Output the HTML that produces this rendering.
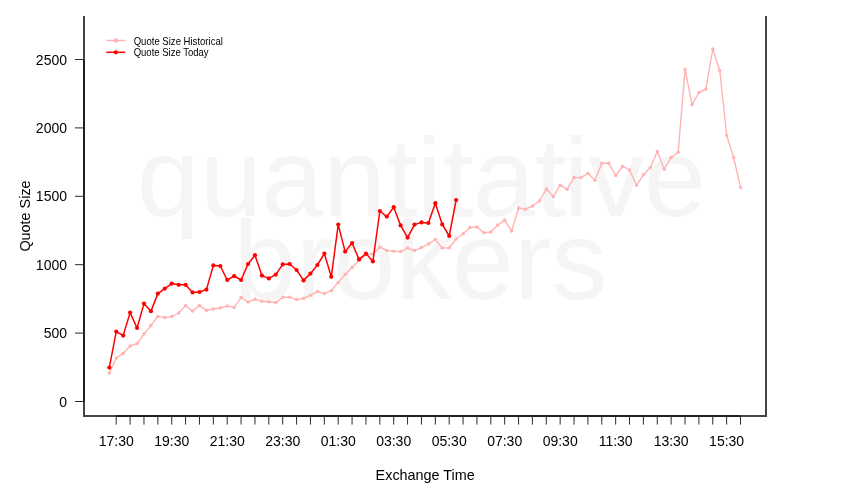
<!DOCTYPE html>
<html><head><meta charset="utf-8">
<style>
html,body{margin:0;padding:0;background:#fff;}
body{width:850px;height:500px;overflow:hidden;}
svg{display:block;will-change:transform;font-family:"Liberation Sans",sans-serif;}
</style></head><body>
<svg width="850" height="500" viewBox="0 0 850 500">
<rect width="850" height="500" fill="#fff"/>
<g fill="#f5f5f5" font-size="112" text-anchor="middle">
<text x="137.07 199.85 260.95 323.23 386.23 416.84 442.23 472.64 534.93 563.74 588.13 643.63" y="216" text-anchor="start">quantitative</text>
<text x="420.5" y="299">brokers</text>
</g>
<g fill="none">
<path d="M84,16 V416 H766 V16" stroke="#454545" stroke-width="2" stroke-linejoin="miter"/>
<path d="M84,59.50 V401.50" stroke="#202020" stroke-width="2"/>
<path d="M116.23,416 H740.51" stroke="#202020" stroke-width="2"/>
<g stroke="#2a2a2a" stroke-width="1">
<line x1="75.0" y1="401.50" x2="84.0" y2="401.50"/><line x1="75.0" y1="333.10" x2="84.0" y2="333.10"/><line x1="75.0" y1="264.70" x2="84.0" y2="264.70"/><line x1="75.0" y1="196.30" x2="84.0" y2="196.30"/><line x1="75.0" y1="127.90" x2="84.0" y2="127.90"/><line x1="75.0" y1="59.50" x2="84.0" y2="59.50"/>
<line x1="116.23" y1="416" x2="116.23" y2="424.6"/><line x1="130.10" y1="416" x2="130.10" y2="424.6"/><line x1="143.98" y1="416" x2="143.98" y2="424.6"/><line x1="157.85" y1="416" x2="157.85" y2="424.6"/><line x1="171.72" y1="416" x2="171.72" y2="424.6"/><line x1="185.59" y1="416" x2="185.59" y2="424.6"/><line x1="199.47" y1="416" x2="199.47" y2="424.6"/><line x1="213.34" y1="416" x2="213.34" y2="424.6"/><line x1="227.21" y1="416" x2="227.21" y2="424.6"/><line x1="241.09" y1="416" x2="241.09" y2="424.6"/><line x1="254.96" y1="416" x2="254.96" y2="424.6"/><line x1="268.83" y1="416" x2="268.83" y2="424.6"/><line x1="282.71" y1="416" x2="282.71" y2="424.6"/><line x1="296.58" y1="416" x2="296.58" y2="424.6"/><line x1="310.45" y1="416" x2="310.45" y2="424.6"/><line x1="324.32" y1="416" x2="324.32" y2="424.6"/><line x1="338.20" y1="416" x2="338.20" y2="424.6"/><line x1="352.07" y1="416" x2="352.07" y2="424.6"/><line x1="365.94" y1="416" x2="365.94" y2="424.6"/><line x1="379.82" y1="416" x2="379.82" y2="424.6"/><line x1="393.69" y1="416" x2="393.69" y2="424.6"/><line x1="407.56" y1="416" x2="407.56" y2="424.6"/><line x1="421.44" y1="416" x2="421.44" y2="424.6"/><line x1="435.31" y1="416" x2="435.31" y2="424.6"/><line x1="449.18" y1="416" x2="449.18" y2="424.6"/><line x1="463.06" y1="416" x2="463.06" y2="424.6"/><line x1="476.93" y1="416" x2="476.93" y2="424.6"/><line x1="490.80" y1="416" x2="490.80" y2="424.6"/><line x1="504.67" y1="416" x2="504.67" y2="424.6"/><line x1="518.55" y1="416" x2="518.55" y2="424.6"/><line x1="532.42" y1="416" x2="532.42" y2="424.6"/><line x1="546.29" y1="416" x2="546.29" y2="424.6"/><line x1="560.17" y1="416" x2="560.17" y2="424.6"/><line x1="574.04" y1="416" x2="574.04" y2="424.6"/><line x1="587.91" y1="416" x2="587.91" y2="424.6"/><line x1="601.78" y1="416" x2="601.78" y2="424.6"/><line x1="615.66" y1="416" x2="615.66" y2="424.6"/><line x1="629.53" y1="416" x2="629.53" y2="424.6"/><line x1="643.40" y1="416" x2="643.40" y2="424.6"/><line x1="657.28" y1="416" x2="657.28" y2="424.6"/><line x1="671.15" y1="416" x2="671.15" y2="424.6"/><line x1="685.02" y1="416" x2="685.02" y2="424.6"/><line x1="698.90" y1="416" x2="698.90" y2="424.6"/><line x1="712.77" y1="416" x2="712.77" y2="424.6"/><line x1="726.64" y1="416" x2="726.64" y2="424.6"/><line x1="740.51" y1="416" x2="740.51" y2="424.6"/>
</g>
</g>
<g font-size="14" fill="#000" text-anchor="end"><text x="67" y="406.50">0</text><text x="67" y="338.10">500</text><text x="67" y="269.70">1000</text><text x="67" y="201.30">1500</text><text x="67" y="132.90">2000</text><text x="67" y="64.50">2500</text></g>
<g font-size="14" fill="#000" text-anchor="middle"><text x="116.23" y="446.3">17:30</text><text x="171.72" y="446.3">19:30</text><text x="227.21" y="446.3">21:30</text><text x="282.71" y="446.3">23:30</text><text x="338.20" y="446.3">01:30</text><text x="393.69" y="446.3">03:30</text><text x="449.18" y="446.3">05:30</text><text x="504.67" y="446.3">07:30</text><text x="560.17" y="446.3">09:30</text><text x="615.66" y="446.3">11:30</text><text x="671.15" y="446.3">13:30</text><text x="726.64" y="446.3">15:30</text></g>
<text x="425.2" y="479.8" font-size="14.4" text-anchor="middle">Exchange Time</text>
<text transform="translate(29.7,216) rotate(-90)" font-size="14.4" text-anchor="middle">Quote Size</text>
<g>
<polyline points="109.30,373.00 116.24,358.00 123.17,353.40 130.11,346.00 137.05,343.60 143.99,334.00 150.92,325.60 157.86,316.40 164.80,317.60 171.73,316.60 178.67,313.00 185.61,305.60 192.54,311.00 199.48,305.60 206.42,310.40 213.36,309.00 220.29,308.00 227.23,306.00 234.17,307.40 241.10,297.60 248.04,302.00 254.98,299.20 261.91,301.20 268.85,301.80 275.79,302.40 282.73,297.20 289.66,297.20 296.60,299.60 303.54,298.40 310.47,295.20 317.41,291.60 324.35,293.60 331.28,290.70 338.22,282.40 345.16,274.40 352.10,267.60 359.03,260.60 365.97,254.60 372.91,254.00 379.84,247.20 386.78,250.40 393.72,251.30 400.65,251.60 407.59,248.00 414.53,250.60 421.47,247.60 428.40,244.00 435.34,239.60 442.28,248.00 449.21,247.70 456.15,239.00 463.09,233.80 470.02,227.40 476.96,227.00 483.90,232.70 490.84,232.00 497.77,225.00 504.71,220.10 511.65,230.90 518.58,207.90 525.52,209.20 532.46,206.00 539.39,201.00 546.33,189.10 553.27,196.40 560.21,185.20 567.14,189.20 574.08,177.60 581.02,177.60 587.95,173.30 594.89,180.20 601.83,163.20 608.76,163.20 615.70,175.50 622.64,166.40 629.57,170.00 636.51,185.20 643.45,174.80 650.39,167.50 657.32,151.50 664.26,169.20 671.20,157.50 678.13,152.20 685.07,69.40 692.01,104.70 698.94,92.50 705.88,89.00 712.82,49.10 719.76,70.50 726.69,135.40 733.63,157.40 740.57,187.40" fill="none" stroke="#ffb3b3" stroke-width="1.4" stroke-linejoin="round"/>
<g fill="#ffb3b3"><circle cx="109.30" cy="373.00" r="1.75"/><circle cx="116.24" cy="358.00" r="1.75"/><circle cx="123.17" cy="353.40" r="1.75"/><circle cx="130.11" cy="346.00" r="1.75"/><circle cx="137.05" cy="343.60" r="1.75"/><circle cx="143.99" cy="334.00" r="1.75"/><circle cx="150.92" cy="325.60" r="1.75"/><circle cx="157.86" cy="316.40" r="1.75"/><circle cx="164.80" cy="317.60" r="1.75"/><circle cx="171.73" cy="316.60" r="1.75"/><circle cx="178.67" cy="313.00" r="1.75"/><circle cx="185.61" cy="305.60" r="1.75"/><circle cx="192.54" cy="311.00" r="1.75"/><circle cx="199.48" cy="305.60" r="1.75"/><circle cx="206.42" cy="310.40" r="1.75"/><circle cx="213.36" cy="309.00" r="1.75"/><circle cx="220.29" cy="308.00" r="1.75"/><circle cx="227.23" cy="306.00" r="1.75"/><circle cx="234.17" cy="307.40" r="1.75"/><circle cx="241.10" cy="297.60" r="1.75"/><circle cx="248.04" cy="302.00" r="1.75"/><circle cx="254.98" cy="299.20" r="1.75"/><circle cx="261.91" cy="301.20" r="1.75"/><circle cx="268.85" cy="301.80" r="1.75"/><circle cx="275.79" cy="302.40" r="1.75"/><circle cx="282.73" cy="297.20" r="1.75"/><circle cx="289.66" cy="297.20" r="1.75"/><circle cx="296.60" cy="299.60" r="1.75"/><circle cx="303.54" cy="298.40" r="1.75"/><circle cx="310.47" cy="295.20" r="1.75"/><circle cx="317.41" cy="291.60" r="1.75"/><circle cx="324.35" cy="293.60" r="1.75"/><circle cx="331.28" cy="290.70" r="1.75"/><circle cx="338.22" cy="282.40" r="1.75"/><circle cx="345.16" cy="274.40" r="1.75"/><circle cx="352.10" cy="267.60" r="1.75"/><circle cx="359.03" cy="260.60" r="1.75"/><circle cx="365.97" cy="254.60" r="1.75"/><circle cx="372.91" cy="254.00" r="1.75"/><circle cx="379.84" cy="247.20" r="1.75"/><circle cx="386.78" cy="250.40" r="1.75"/><circle cx="393.72" cy="251.30" r="1.75"/><circle cx="400.65" cy="251.60" r="1.75"/><circle cx="407.59" cy="248.00" r="1.75"/><circle cx="414.53" cy="250.60" r="1.75"/><circle cx="421.47" cy="247.60" r="1.75"/><circle cx="428.40" cy="244.00" r="1.75"/><circle cx="435.34" cy="239.60" r="1.75"/><circle cx="442.28" cy="248.00" r="1.75"/><circle cx="449.21" cy="247.70" r="1.75"/><circle cx="456.15" cy="239.00" r="1.75"/><circle cx="463.09" cy="233.80" r="1.75"/><circle cx="470.02" cy="227.40" r="1.75"/><circle cx="476.96" cy="227.00" r="1.75"/><circle cx="483.90" cy="232.70" r="1.75"/><circle cx="490.84" cy="232.00" r="1.75"/><circle cx="497.77" cy="225.00" r="1.75"/><circle cx="504.71" cy="220.10" r="1.75"/><circle cx="511.65" cy="230.90" r="1.75"/><circle cx="518.58" cy="207.90" r="1.75"/><circle cx="525.52" cy="209.20" r="1.75"/><circle cx="532.46" cy="206.00" r="1.75"/><circle cx="539.39" cy="201.00" r="1.75"/><circle cx="546.33" cy="189.10" r="1.75"/><circle cx="553.27" cy="196.40" r="1.75"/><circle cx="560.21" cy="185.20" r="1.75"/><circle cx="567.14" cy="189.20" r="1.75"/><circle cx="574.08" cy="177.60" r="1.75"/><circle cx="581.02" cy="177.60" r="1.75"/><circle cx="587.95" cy="173.30" r="1.75"/><circle cx="594.89" cy="180.20" r="1.75"/><circle cx="601.83" cy="163.20" r="1.75"/><circle cx="608.76" cy="163.20" r="1.75"/><circle cx="615.70" cy="175.50" r="1.75"/><circle cx="622.64" cy="166.40" r="1.75"/><circle cx="629.57" cy="170.00" r="1.75"/><circle cx="636.51" cy="185.20" r="1.75"/><circle cx="643.45" cy="174.80" r="1.75"/><circle cx="650.39" cy="167.50" r="1.75"/><circle cx="657.32" cy="151.50" r="1.75"/><circle cx="664.26" cy="169.20" r="1.75"/><circle cx="671.20" cy="157.50" r="1.75"/><circle cx="678.13" cy="152.20" r="1.75"/><circle cx="685.07" cy="69.40" r="1.75"/><circle cx="692.01" cy="104.70" r="1.75"/><circle cx="698.94" cy="92.50" r="1.75"/><circle cx="705.88" cy="89.00" r="1.75"/><circle cx="712.82" cy="49.10" r="1.75"/><circle cx="719.76" cy="70.50" r="1.75"/><circle cx="726.69" cy="135.40" r="1.75"/><circle cx="733.63" cy="157.40" r="1.75"/><circle cx="740.57" cy="187.40" r="1.75"/></g>
<polyline points="109.30,367.60 116.24,331.60 123.17,335.60 130.11,312.60 137.05,328.00 143.99,303.60 150.92,311.20 157.86,293.60 164.80,288.60 171.73,283.60 178.67,284.80 185.61,284.80 192.54,292.40 199.48,292.00 206.42,289.60 213.36,265.40 220.29,266.00 227.23,280.00 234.17,276.00 241.10,280.00 248.04,264.00 254.98,255.20 261.91,275.60 268.85,278.40 275.79,274.60 282.73,264.40 289.66,264.00 296.60,270.00 303.54,280.40 310.47,273.60 317.41,265.00 324.35,253.60 331.28,276.80 338.22,224.60 345.16,251.60 352.10,243.00 359.03,259.40 365.97,253.60 372.91,261.40 379.84,211.00 386.78,216.60 393.72,207.20 400.65,225.40 407.59,237.60 414.53,224.60 421.47,222.40 428.40,223.00 435.34,203.20 442.28,224.40 449.21,236.00 456.15,200.00" fill="none" stroke="#ff0000" stroke-width="1.5" stroke-linejoin="round"/>
<g fill="#ff0000"><circle cx="109.30" cy="367.60" r="2.1"/><circle cx="116.24" cy="331.60" r="2.1"/><circle cx="123.17" cy="335.60" r="2.1"/><circle cx="130.11" cy="312.60" r="2.1"/><circle cx="137.05" cy="328.00" r="2.1"/><circle cx="143.99" cy="303.60" r="2.1"/><circle cx="150.92" cy="311.20" r="2.1"/><circle cx="157.86" cy="293.60" r="2.1"/><circle cx="164.80" cy="288.60" r="2.1"/><circle cx="171.73" cy="283.60" r="2.1"/><circle cx="178.67" cy="284.80" r="2.1"/><circle cx="185.61" cy="284.80" r="2.1"/><circle cx="192.54" cy="292.40" r="2.1"/><circle cx="199.48" cy="292.00" r="2.1"/><circle cx="206.42" cy="289.60" r="2.1"/><circle cx="213.36" cy="265.40" r="2.1"/><circle cx="220.29" cy="266.00" r="2.1"/><circle cx="227.23" cy="280.00" r="2.1"/><circle cx="234.17" cy="276.00" r="2.1"/><circle cx="241.10" cy="280.00" r="2.1"/><circle cx="248.04" cy="264.00" r="2.1"/><circle cx="254.98" cy="255.20" r="2.1"/><circle cx="261.91" cy="275.60" r="2.1"/><circle cx="268.85" cy="278.40" r="2.1"/><circle cx="275.79" cy="274.60" r="2.1"/><circle cx="282.73" cy="264.40" r="2.1"/><circle cx="289.66" cy="264.00" r="2.1"/><circle cx="296.60" cy="270.00" r="2.1"/><circle cx="303.54" cy="280.40" r="2.1"/><circle cx="310.47" cy="273.60" r="2.1"/><circle cx="317.41" cy="265.00" r="2.1"/><circle cx="324.35" cy="253.60" r="2.1"/><circle cx="331.28" cy="276.80" r="2.1"/><circle cx="338.22" cy="224.60" r="2.1"/><circle cx="345.16" cy="251.60" r="2.1"/><circle cx="352.10" cy="243.00" r="2.1"/><circle cx="359.03" cy="259.40" r="2.1"/><circle cx="365.97" cy="253.60" r="2.1"/><circle cx="372.91" cy="261.40" r="2.1"/><circle cx="379.84" cy="211.00" r="2.1"/><circle cx="386.78" cy="216.60" r="2.1"/><circle cx="393.72" cy="207.20" r="2.1"/><circle cx="400.65" cy="225.40" r="2.1"/><circle cx="407.59" cy="237.60" r="2.1"/><circle cx="414.53" cy="224.60" r="2.1"/><circle cx="421.47" cy="222.40" r="2.1"/><circle cx="428.40" cy="223.00" r="2.1"/><circle cx="435.34" cy="203.20" r="2.1"/><circle cx="442.28" cy="224.40" r="2.1"/><circle cx="449.21" cy="236.00" r="2.1"/><circle cx="456.15" cy="200.00" r="2.1"/></g>
</g>
<g font-size="10.5" fill="#000">
<line x1="106.3" y1="40.5" x2="125.2" y2="40.5" stroke="#ffb3b3" stroke-width="1.5"/>
<circle cx="115.8" cy="40.5" r="2.2" fill="#ffb3b3"/>
<line x1="106.3" y1="52.3" x2="125.2" y2="52.3" stroke="#ff0000" stroke-width="1.5"/>
<circle cx="115.8" cy="52.3" r="2.1" fill="#ff0000"/>
<text x="133.7" y="44.6" textLength="89.2" lengthAdjust="spacingAndGlyphs">Quote Size Historical</text>
<text x="133.7" y="56.4" textLength="74.9" lengthAdjust="spacingAndGlyphs">Quote Size Today</text>
</g>
</svg>
</body></html>
